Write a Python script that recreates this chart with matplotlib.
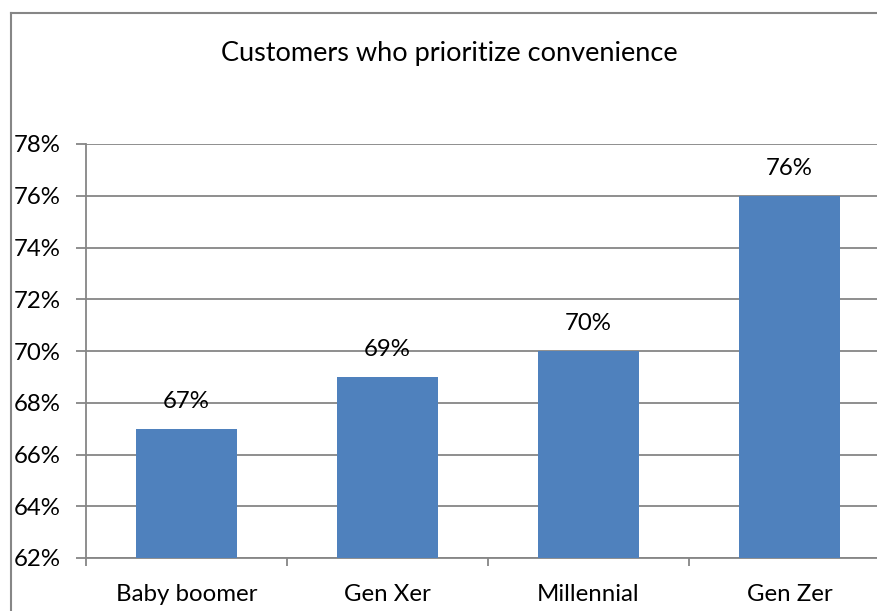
import matplotlib.pyplot as plt
from matplotlib.lines import Line2D
from matplotlib.ticker import FixedLocator

plt.rcParams['font.family'] = ['Lato', 'DejaVu Sans']

# chart data
categories = ['Baby boomer', 'Gen Xer', 'Millennial', 'Gen Zer']
values = [67, 69, 70, 76]
y_ticks = [62, 64, 66, 68, 70, 72, 74, 76, 78]
title = 'Customers who prioritize convenience'

W, H = 877, 611
fig = plt.figure(figsize=(W / 100, H / 100), dpi=100)

# plot area in pixels: left 86, bottom axis at y=558, top at y=144, runs off the right edge
ax = fig.add_axes([86 / W, (H - 558) / H, 804 / W, 414 / H])

grid_col = '#868686'
bar_col = '#4F81BD'
fs = 17.3

x = list(range(len(categories)))
ax.bar(x, [v - y_ticks[0] for v in values], bottom=y_ticks[0], width=0.5,
       color=bar_col, zorder=3)

for xi, v in zip(x, values):
    ax.annotate(f'{v}%', (xi, v), xytext=(0, 12), textcoords='offset points',
                ha='center', va='bottom', fontsize=fs, color='black')

ax.set_xlim(-0.5, len(categories) - 0.5)
ax.set_ylim(y_ticks[0], y_ticks[-1])
ax.set_yticks(y_ticks)
ax.set_yticklabels([f'{t}%' for t in y_ticks])
ax.yaxis.grid(True, color=grid_col, linewidth=1.3, zorder=0)
ax.set_axisbelow(True)

ax.set_xticks(x)
ax.set_xticklabels(categories)
ax.xaxis.set_minor_locator(FixedLocator([i + 0.5 for i in range(-1, len(categories))]))
ax.tick_params(axis='x', which='major', length=0, pad=19, labelsize=fs)
ax.tick_params(axis='x', which='minor', length=6, width=1.3, color=grid_col, direction='out')
ax.tick_params(axis='y', length=7.2, width=1.3, color=grid_col, pad=11, labelsize=fs)

for side in ['top', 'right']:
    ax.spines[side].set_visible(False)
for side in ['left', 'bottom']:
    ax.spines[side].set_color(grid_col)
    ax.spines[side].set_linewidth(1.3)

fig.text(449 / W, 1 - 53 / H, title, ha='center', va='center', fontsize=19.5, color='black')

# chart border, cut off at the right and bottom
fx, fy = 10.5 / W, 1 - 12.5 / H
fig.add_artist(Line2D([fx, fx], [fy, -0.01], transform=fig.transFigure, color=grid_col, linewidth=1.5))
fig.add_artist(Line2D([fx, 1.01], [fy, fy], transform=fig.transFigure, color=grid_col, linewidth=1.5))

fig.savefig('out.png', dpi=100)
